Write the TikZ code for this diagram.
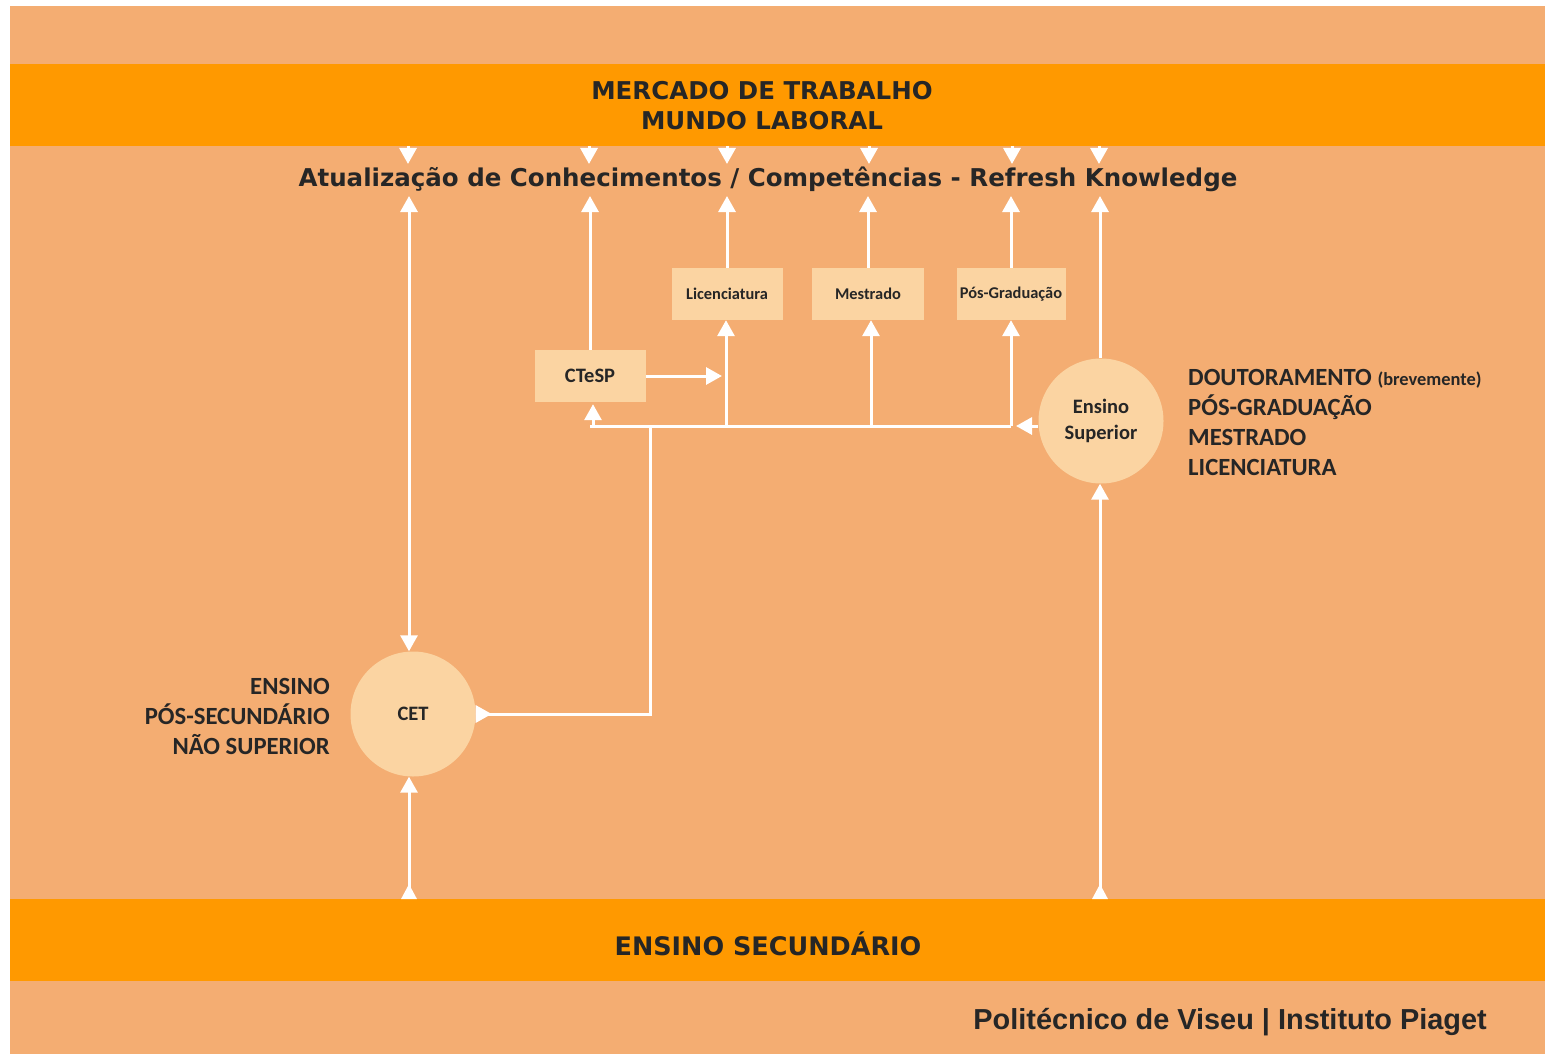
\documentclass[tikz,border=0pt]{standalone}
\usepackage{fontspec}
\setmainfont{Carlito}
\newfontfamily\dvfont{DejaVu Sans}
\newfontfamily\libfont{Liberation Sans}
\usetikzlibrary{arrows.meta}
\definecolor{bgor}{RGB}{244,173,114}
\definecolor{bandor}{RGB}{255,153,0}
\definecolor{boxor}{RGB}{251,212,162}
\definecolor{txtc}{RGB}{38,38,38}
\begin{document}
\begin{tikzpicture}[x=1pt,y=-1pt,
  conn/.style={draw=white,line width=3pt},
  tip/.style={-{Triangle[length=16pt,width=17pt]}},
  both/.style={{Triangle[length=16pt,width=17pt]}-{Triangle[length=16pt,width=17pt]}},
  revboth/.style={{Triangle[reversed,length=15pt,width=15pt]}-{Triangle[length=16pt,width=17pt]}},
  revstart/.style={{Triangle[reversed,length=16pt,width=17pt]}-},
  boxnode/.style={fill=boxor,inner sep=0pt,minimum height=52pt,text=txtc,font=\bfseries\fontsize{16.4}{18}\selectfont},
  circnode/.style={circle,fill=boxor,inner sep=0pt,minimum size=125pt,text=txtc,font=\bfseries\fontsize{20.5}{26}\selectfont,align=center},
  bandtext/.style={text=txtc,font=\dvfont\bfseries\fontsize{24.5}{30}\selectfont,align=center,inner sep=0pt},
  labtext/.style={text=txtc,font=\bfseries\fontsize{24.7}{30}\selectfont,inner sep=0pt}
]
\useasboundingbox (0,0) rectangle (1545,1054);
\fill[white] (0,0) rectangle (1545,1054);
\fill[bgor] (10,6) rectangle (1545,1054);
\fill[bandor] (10,64) rectangle (1545,146);
\fill[bandor] (10,899) rectangle (1545,981);

% texts
\node[bandtext] (market) at (762,106) {MERCADO DE TRABALHO\\MUNDO LABORAL};
\node[bandtext] (refresh) at (768,179) {Atualização de Conhecimentos / Competências - Refresh Knowledge};
\node[bandtext,font=\dvfont\bfseries\fontsize{25.5}{30}\selectfont] (secund) at (768,944) {ENSINO SECUNDÁRIO};
\node[text=txtc,font=\libfont\bfseries\fontsize{28.9}{32}\selectfont,anchor=east,inner sep=0pt] (credit) at (1487,1022) {Politécnico de Viseu | Instituto Piaget};

% boxes
\node[boxnode,minimum width=111pt] (lic) at (727,294) {Licenciatura};
\node[boxnode,minimum width=112pt] (mes) at (868,294) {Mestrado};
\node[boxnode,minimum width=109pt] (pos) at (1011,294) {Pós-Graduação};
\node[boxnode,minimum width=111pt,font=\bfseries\fontsize{20.5}{22}\selectfont] (ctesp) at (590,376) {CTeSP};

% circles
\node[circnode] (es) at (1101,421) {Ensino\\Superior};
\node[circnode] (cet) at (413,714) {CET};

% labels
\node[labtext,anchor=west,align=left] (eslab) at (1188,422) {DOUTORAMENTO {\fontsize{18.4}{20}\selectfont(brevemente)}\\PÓS-GRADUAÇÃO\\MESTRADO\\LICENCIATURA};
\node[labtext,anchor=east,align=right] (cetlab) at (330,716) {ENSINO\\PÓS-SECUNDÁRIO\\NÃO SUPERIOR};

% helper coordinates
\coordinate (x409) at (409,0);
\coordinate (x593) at (593,0);
\coordinate (x726) at (726,0);
\coordinate (x871) at (871,0);
\coordinate (x1100) at (1100,0);
\coordinate (busL) at (590,426);
\coordinate (busR) at (1011,426);
\coordinate (busJ) at (650,426);
\coordinate (cetJ) at (650,714);
\coordinate (x722) at (722,0);
\coordinate (esL) at (1016,426);
\coordinate (ru) at (0,196);

% down triangles under the top band
\foreach \xx/\nm in {408/a,589/b,727/c,869/d,1012/e,1099/f}{
  \coordinate (bt\nm) at (\xx,146);
  \coordinate (rt\nm) at (\xx,164);
  \draw[conn,tip] (bt\nm) -- (rt\nm);
}
% up arrows to the refresh line
\draw[conn,both] (cet.north -| x409) -- (ru -| x409);
\draw[conn,tip] (ctesp.north) -- (ctesp.north |- ru);
\draw[conn,tip] (lic.north) -- (lic.north |- ru);
\draw[conn,tip] (mes.north) -- (mes.north |- ru);
\draw[conn,tip] (pos.north) -- (pos.north |- ru);
\draw[conn,tip] (es.north -| x1100) -- (ru -| x1100);

% bus
\draw[conn] (busL) -- (busR);
\draw[conn,tip,shorten >=2pt] (busL -| x593) -- (ctesp.south -| x593);
\draw[conn,tip] (busL -| x726) -- (lic.south -| x726);
\draw[conn,tip] (busL -| x871) -- (mes.south -| x871);
\draw[conn,tip] (busR) -- (pos.south);
\draw[conn,tip] (es.west |- esL) -- (esL);
\draw[conn,tip] (ctesp.east) -- (ctesp.east -| x722);
\draw[conn,revstart] (cet.east) -- (cetJ) -- (busJ);

% from the bottom band
\coordinate (sbA) at (409,899);
\coordinate (sbB) at (1100,899);
\draw[conn,revboth] (sbA) -- (cet.south -| x409);
\draw[conn,revboth] (sbB) -- (es.south -| x1100);
\end{tikzpicture}
\end{document}
